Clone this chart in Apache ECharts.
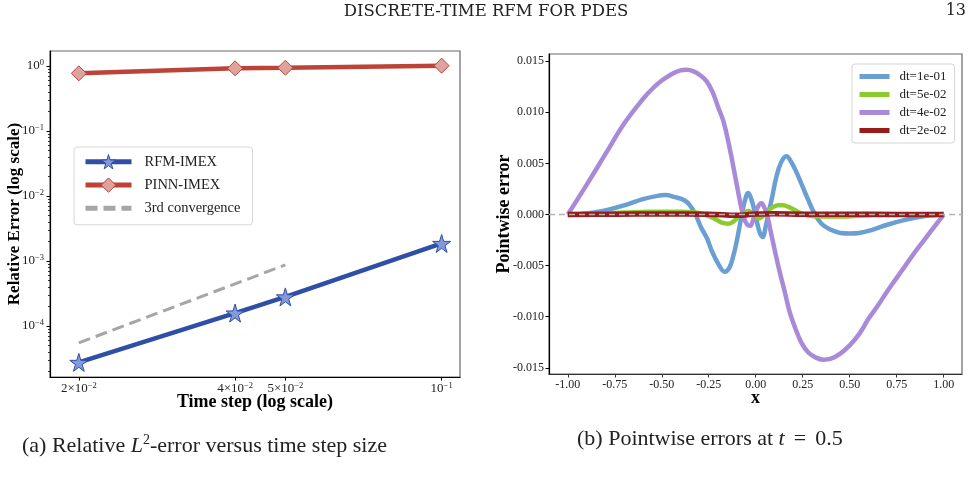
<!DOCTYPE html>
<html>
<head>
<meta charset="utf-8">
<script src="https://cdn.jsdelivr.net/npm/echarts@6/dist/echarts.min.js"></script>
<style>
  html, body { margin: 0; padding: 0; background: #fff; }
  #chart { width: 972px; height: 486px; }
</style>
</head>
<body>
<div id="chart"></div>
<script>
(function(){
    // (a) 相对误差 vs 时间步长
    var dtValues = [0.02, 0.04, 0.05, 0.1];
    var rfmErr = [2.75e-5, 1.58e-4, 2.8e-4, 1.86e-3];
    var pinnErr = [0.77, 0.92, 0.94, 1.01];
    var refDt = [0.02, 0.05];
    var refErr = [5.5e-5, 8.7e-4];
    var dtTicks = [0.02, 0.04, 0.05, 0.1];
    var errTicks = [1e-4, 1e-3, 1e-2, 1e-1, 1];
    var errMinorTicks = [2e-5, 3e-5, 4e-5, 5e-5, 6e-5, 7e-5, 8e-5, 9e-5,
        2e-4, 3e-4, 4e-4, 5e-4, 6e-4, 7e-4, 8e-4, 9e-4,
        2e-3, 3e-3, 4e-3, 5e-3, 6e-3, 7e-3, 8e-3, 9e-3,
        2e-2, 3e-2, 4e-2, 5e-2, 6e-2, 7e-2, 8e-2, 9e-2,
        0.2, 0.3, 0.4, 0.5, 0.6, 0.7, 0.8, 0.9];

    // (b) t = 0.5 时的逐点误差 [x, error]
    var dt1e1 = [[-1.0,0],[-0.9,0.0001],[-0.8,0.0004],[-0.7,0.0009],[-0.6,0.0015],[-0.53,0.0018],[-0.48,0.0019],
        [-0.43,0.0017],[-0.38,0.0014],[-0.35,0.0009],[-0.32,0.0000],[-0.29,-0.0013],[-0.26,-0.0023],[-0.235,-0.0035],
        [-0.2,-0.0048],[-0.165,-0.0056],[-0.14,-0.0052],[-0.12,-0.0041],[-0.1,-0.0025],[-0.08,-0.0006],[-0.06,0.0012],
        [-0.04,0.0021],[-0.02,0.0013],[0.0,-0.0002],[0.02,-0.0017],[0.036,-0.0022],[0.055,-0.0010],[0.07,0.0003],
        [0.085,0.0015],[0.11,0.0037],[0.135,0.0051],[0.163,0.0057],[0.19,0.0051],[0.22,0.0040],[0.25,0.0027],
        [0.28,0.0014],[0.31,0.0002],[0.35,-0.0009],[0.4,-0.0015],[0.45,-0.0018],[0.5,-0.00185],[0.55,-0.0018],
        [0.62,-0.0015],[0.7,-0.0010],[0.8,-0.0005],[0.9,-0.00015],[1.0,0]];
    var dt5e2 = [[-1.0,0],[-0.9,0.00005],[-0.8,0.00012],[-0.7,0.0002],[-0.6,0.00025],[-0.5,0.00028],[-0.4,0.00028],
        [-0.32,0.0002],[-0.27,0.0],[-0.22,-0.0004],[-0.18,-0.0008],[-0.147,-0.0009],[-0.12,-0.0007],[-0.09,-0.0002],
        [-0.06,0.0002],[-0.04,0.00035],[-0.02,0.0001],[0.0,-0.0003],[0.015,-0.0004],[0.035,-0.0002],[0.06,0.0003],
        [0.09,0.0007],[0.12,0.0009],[0.145,0.0009],[0.18,0.0007],[0.22,0.0003],[0.26,0.0],[0.3,-0.00015],
        [0.35,-0.0002],[0.45,-0.0002],[0.55,-0.00012],[0.7,-0.00005],[0.85,0.0],[1.0,0]];
    var dt4e2 = [[-1.0,0],[-0.9,0.0029],[-0.8,0.0059],[-0.7,0.0089],[-0.6,0.0113],[-0.55,0.0123],[-0.5,0.0131],
        [-0.45,0.0137],[-0.4,0.0141],[-0.37,0.01415],[-0.33,0.0140],[-0.29,0.01355],[-0.26,0.0130],[-0.23,0.0120],
        [-0.2,0.0105],[-0.17,0.0090],[-0.14,0.0066],[-0.11,0.0038],[-0.085,0.0014],[-0.065,-0.0002],[-0.045,-0.0010],
        [-0.03,-0.0011],[-0.01,-0.0003],[0.01,0.0007],[0.03,0.0011],[0.045,0.0007],[0.06,0.0],[0.08,-0.0017],
        [0.1,-0.0034],[0.13,-0.0058],[0.155,-0.0076],[0.18,-0.0095],[0.21,-0.0111],[0.245,-0.0126],[0.28,-0.0135],
        [0.32,-0.0140],[0.36,-0.0142],[0.4,-0.0141],[0.45,-0.0136],[0.5,-0.0128],[0.55,-0.0117],[0.6,-0.0102],
        [0.65,-0.0089],[0.7,-0.0075],[0.75,-0.0062],[0.8,-0.0049],[0.85,-0.0036],[0.9,-0.0024],[0.95,-0.0012],[1.0,0]];
    var dt2e2 = [[-1.0,0],[-0.75,0.00003],[-0.5,0.00005],[-0.25,0.00003],[-0.1,-0.00008],[0.0,0.00005],
        [0.1,0.00008],[0.25,0.00003],[0.5,0.00002],[0.75,0.00001],[1.0,0]];
    var xTicks = [-1, -0.75, -0.5, -0.25, 0, 0.25, 0.5, 0.75, 1];
    var yTicks = [-0.015, -0.01, -0.005, 0, 0.005, 0.01, 0.015];

    var serif = 'Liberation Serif';
    var starPath = 'path://M50,0L61,35L98,35L68,57L79,91L50,70L21,91L32,57L2,35L39,35Z';
    var hideSymbol = { opacity: 0 };

    function zip(xs, ys) {
        return xs.map(function(x, i) { return [x, ys[i]]; });
    }
    function sup(e) {
        return e < 0 ? '\u2212' + (-e) : '' + e;
    }
    function logLabel(v) {
        var e = Math.floor(Math.log10(v) + 1e-9);
        var m = Math.round(v / Math.pow(10, e));
        var base = m === 1 ? '10' : m + '\u00d710';
        return '{b|' + base + '}{s|' + sup(e) + '}';
    }
    var logRich = {
        b: { fontFamily: serif, fontSize: 13, color: '#222', lineHeight: 16 },
        s: { fontFamily: serif, fontSize: 8.5, color: '#222', lineHeight: 8, verticalAlign: 'top' }
    };
    var titleFont = { fontFamily: serif, fontSize: 18, fontWeight: 'bold', color: '#000' };

    var dom = document.getElementById('chart');
    var myChart = echarts.init(dom, null, { renderer: 'canvas' });

    var option = {
        animation: false,
        backgroundColor: '#fff',
        textStyle: { fontFamily: serif },
        grid: [
            { left: 50, top: 51, width: 410, height: 326, show: true, borderColor: '#666', borderWidth: 1.2 },
            { left: 549, top: 54, width: 413, height: 320, show: true, borderColor: '#666', borderWidth: 1.2 }
        ],
        xAxis: [
            {
                gridIndex: 0, type: 'log', logBase: 10, min: 0.0176, max: 0.1085,
                name: 'Time step (log scale)', nameLocation: 'middle', nameGap: 16, nameMoveOverlap: false,
                nameTextStyle: titleFont,
                axisLine: { lineStyle: { color: '#000', width: 1.2 } },
                axisTick: { customValues: dtTicks, length: 3.5, lineStyle: { color: '#000' } },
                axisLabel: { customValues: dtTicks, margin: 4, formatter: logLabel, rich: logRich },
                splitLine: { show: false }
            },
            {
                gridIndex: 1, type: 'value', min: -1.1, max: 1.0975,
                name: 'x', nameLocation: 'middle', nameGap: 15, nameMoveOverlap: false,
                nameTextStyle: titleFont,
                axisLine: { onZero: false, lineStyle: { color: '#333', width: 1.2 } },
                axisTick: { customValues: xTicks, length: 3.5, lineStyle: { color: '#333' } },
                axisLabel: {
                    customValues: xTicks, margin: 5, fontFamily: serif, fontSize: 12, color: '#222',
                    formatter: function(v) { return v.toFixed(2); }
                },
                splitLine: { show: false }
            }
        ],
        yAxis: [
            {
                gridIndex: 0, type: 'log', logBase: 10, min: 1.64e-5, max: 1.70, position: 'left',
                name: 'Relative Error (log scale)', nameLocation: 'middle', nameGap: 27, nameMoveOverlap: false,
                nameTextStyle: { fontFamily: serif, fontSize: 17, fontWeight: 'bold', color: '#000' },
                axisLine: { lineStyle: { color: '#000', width: 1.2 } },
                axisTick: { customValues: errTicks, length: 3.5, lineStyle: { color: '#000' } },
                axisLabel: { customValues: errTicks, margin: 6, formatter: logLabel, rich: logRich },
                splitLine: { show: false }
            },
            {
                // 次刻度
                gridIndex: 0, type: 'log', logBase: 10, min: 1.64e-5, max: 1.70, position: 'left', offset: 0,
                axisLine: { show: false },
                axisTick: { customValues: errMinorTicks, length: 2, lineStyle: { color: '#000', width: 0.8 } },
                axisLabel: { show: false },
                splitLine: { show: false }
            },
            {
                gridIndex: 1, type: 'value', min: -0.0156, max: 0.0157,
                name: 'Pointwise error', nameLocation: 'middle', nameGap: 36, nameMoveOverlap: false,
                nameTextStyle: titleFont,
                axisLine: { onZero: false, lineStyle: { color: '#000', width: 1.2 } },
                axisTick: { customValues: yTicks, length: 3.5, lineStyle: { color: '#000' } },
                axisLabel: {
                    customValues: yTicks, margin: 5, fontFamily: serif, fontSize: 12, color: '#222',
                    formatter: function(v) { return v.toFixed(3); }
                },
                splitLine: { show: false }
            }
        ],
        legend: [
            {
                data: [
                    { name: 'RFM-IMEX', itemStyle: { color: '#8399d9', borderColor: '#2f4ea6', borderWidth: 1 } },
                    { name: 'PINN-IMEX', itemStyle: { color: '#dfa39d', borderColor: '#b8453a', borderWidth: 1 } },
                    { name: '3rd convergence', itemStyle: hideSymbol }
                ],
                orient: 'vertical', left: 74, top: 147,
                itemWidth: 46, itemHeight: 18, itemGap: 8,
                padding: [7, 12, 9, 9],
                borderColor: '#d6d6d6', borderWidth: 1, borderRadius: 3,
                lineStyle: { width: 5 },
                textStyle: { fontFamily: serif, fontSize: 14.5, color: '#222', padding: [0, 0, 0, 8] }
            },
            {
                data: ['dt=1e-01', 'dt=5e-02', 'dt=4e-02', 'dt=2e-02'],
                orient: 'vertical', left: 852, top: 64,
                itemWidth: 30, itemHeight: 12, itemGap: 5,
                padding: [6, 8, 6, 5],
                borderColor: '#d6d6d6', borderWidth: 1, borderRadius: 3,
                itemStyle: hideSymbol,
                lineStyle: { width: 5 },
                textStyle: { fontFamily: serif, fontSize: 13, color: '#222', padding: [0, 0, 0, 5] }
            }
        ],
        series: [
            {
                name: 'RFM-IMEX', type: 'line', xAxisIndex: 0, yAxisIndex: 0,
                data: zip(dtValues, rfmErr),
                symbol: starPath, symbolSize: 18,
                lineStyle: { color: '#2f4ea6', width: 4.5 },
                itemStyle: { color: '#8399d9', borderColor: '#2f4ea6', borderWidth: 1 },
                z: 3
            },
            {
                name: 'PINN-IMEX', type: 'line', xAxisIndex: 0, yAxisIndex: 0,
                data: zip(dtValues, pinnErr),
                symbol: 'diamond', symbolSize: 15,
                lineStyle: { color: '#bd4338', width: 4.5 },
                itemStyle: { color: '#dfa39d', borderColor: '#b8453a', borderWidth: 1 },
                z: 3
            },
            {
                name: '3rd convergence', type: 'line', xAxisIndex: 0, yAxisIndex: 0,
                data: zip(refDt, refErr),
                symbol: 'none',
                lineStyle: { color: '#a6a6a6', width: 3, type: [12, 6] },
                itemStyle: { color: '#a6a6a6' },
                z: 2
            },
            {
                name: 'dt=1e-01', type: 'line', xAxisIndex: 1, yAxisIndex: 2,
                data: dt1e1, smooth: 0.4, symbol: 'none',
                lineStyle: { color: '#6a9fd3', width: 4.5 },
                itemStyle: { color: '#6a9fd3' },
                z: 2
            },
            {
                name: 'dt=5e-02', type: 'line', xAxisIndex: 1, yAxisIndex: 2,
                data: dt5e2, smooth: 0.4, symbol: 'none',
                lineStyle: { color: '#8ccb2d', width: 4.5 },
                itemStyle: { color: '#8ccb2d' },
                z: 3
            },
            {
                name: 'dt=4e-02', type: 'line', xAxisIndex: 1, yAxisIndex: 2,
                data: dt4e2, smooth: 0.4, symbol: 'none',
                lineStyle: { color: '#a98ad8', width: 4.5 },
                itemStyle: { color: '#a98ad8' },
                z: 4
            },
            {
                name: 'dt=2e-02', type: 'line', xAxisIndex: 1, yAxisIndex: 2,
                data: dt2e2, smooth: 0.4, symbol: 'none',
                lineStyle: { color: '#981b1b', width: 5.5 },
                itemStyle: { color: '#981b1b' },
                z: 5,
                markLine: {
                    silent: true, symbol: 'none', z: 10,
                    label: { show: false },
                    lineStyle: { color: '#b4b4b4', width: 1.3, type: [6, 4] },
                    data: [{ yAxis: 0 }]
                }
            }
        ],
        graphic: [
            {
                type: 'text', left: 'center', top: 3,
                style: { text: 'DISCRETE-TIME RFM FOR PDES', fontFamily: 'DejaVu Serif', fontSize: 16.5, fill: '#222' }
            },
            {
                type: 'text', right: 6, top: 3,
                style: { text: '13', fontFamily: 'DejaVu Serif', fontSize: 16, fill: '#222' }
            },
            {
                type: 'text', left: 22, top: 433,
                style: {
                    text: '{a|(a) Relative }{i|L}{s|2}{a|-error versus time step size}',
                    rich: {
                        a: { fontFamily: serif, fontSize: 22, fill: '#222', lineHeight: 26 },
                        i: { fontFamily: serif, fontSize: 22, fontStyle: 'italic', fill: '#222', lineHeight: 26 },
                        s: { fontFamily: serif, fontSize: 14, fill: '#222', lineHeight: 14, verticalAlign: 'top' }
                    }
                }
            },
            {
                type: 'text', left: 577, top: 428,
                style: {
                    text: '{a|(b) Pointwise errors at }{i|t}{e|=}{a|0.5}',
                    rich: {
                        a: { fontFamily: serif, fontSize: 22, fill: '#222', lineHeight: 26 },
                        i: { fontFamily: serif, fontSize: 22, fontStyle: 'italic', fill: '#222', lineHeight: 26 },
                        e: { fontFamily: serif, fontSize: 22, fill: '#222', lineHeight: 26, padding: [0, 9, 0, 9] }
                    }
                }
            }
        ]
    };
    myChart.setOption(option);
})();
</script>
</body>
</html>
